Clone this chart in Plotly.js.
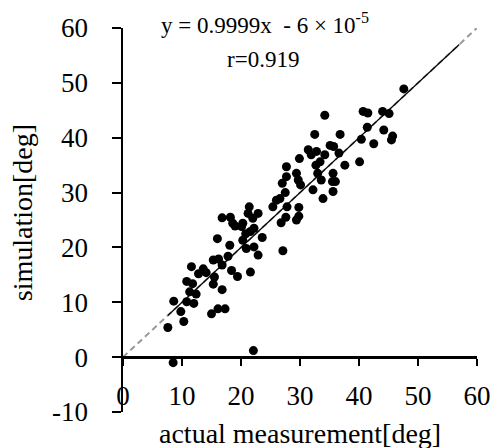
<!DOCTYPE html>
<html>
<head>
<meta charset="utf-8">
<script src="https://cdn.plot.ly/plotly-3.0.1.min.js"></script>
<style>html,body{margin:0;padding:0;background:#fff;}#chart{width:491px;height:448px;}</style>
</head>
<body>
<div id="chart"></div>
<script>
const actual = [7.6, 8.5, 8.6, 9.8, 10.3, 10.8, 10.8, 11.6, 11.8, 11.3, 12.0, 12.4, 12.8, 13.6, 14.1,
  15.0, 15.5, 15.3, 15.3, 16.1, 16.0, 16.2, 16.8, 16.8, 16.8, 17.3, 17.8, 18.2, 18.1, 18.4,
  18.6, 19.4, 19.0, 20.1, 20.3, 20.3, 20.8, 20.9, 21.2, 21.4, 21.6, 21.6, 22.0, 22.1, 22.2,
  22.2, 22.9, 22.9, 23.6, 25.4, 26.0, 26.6, 26.8, 27.0, 27.1, 27.5, 27.6, 27.7, 27.7, 27.8,
  29.4, 29.4, 29.7, 29.8, 29.8, 30.1, 29.9, 32.2, 31.4, 31.9, 32.5, 32.8, 32.7, 33.0, 33.4,
  33.6, 34.2, 33.9, 34.2, 35.1, 35.5, 35.6, 35.6, 36.0, 36.6, 36.8, 37.6, 40.1, 40.4, 40.7,
  41.4, 41.5, 42.5, 44.0, 44.2, 45.1, 45.5, 45.7, 47.6, 35.7];
const simulation = [5.4, -1.0, 10.2, 8.3, 6.5, 10.1, 13.8, 16.5, 13.4, 11.9, 9.8, 11.5, 15.2, 16.1, 15.4,
  7.9, 14.6, 13.3, 17.7, 8.8, 21.6, 17.9, 12.3, 16.8, 25.4, 8.8, 18.4, 25.5, 20.4, 15.8,
  24.4, 14.7, 23.9, 23.8, 24.4, 21.3, 22.5, 19.8, 26.2, 27.4, 22.9, 15.5, 25.3, 1.2, 20.1,
  23.5, 26.2, 18.6, 21.8, 27.4, 28.6, 28.9, 24.5, 31.7, 19.4, 30.0, 25.5, 32.9, 34.7, 27.4,
  33.5, 25.0, 32.3, 27.3, 25.7, 31.4, 36.2, 30.5, 37.8, 36.9, 40.6, 37.5, 35.0, 33.5, 35.6,
  32.3, 36.9, 28.9, 44.1, 38.6, 32.0, 33.5, 30.2, 32.0, 37.2, 40.6, 35.0, 35.6, 39.7, 44.8,
  41.9, 44.5, 38.9, 44.8, 41.4, 44.4, 39.6, 40.3, 48.9, 38.4];
const identityX = [0, 60];
const identityY = [0, 60];
const fitX = [7.6, 57];
const fitY = [7.6, 57];
const xTicks = [0, 10, 20, 30, 40, 50, 60];
const yTicks = [-10, 0, 10, 20, 30, 40, 50, 60];

const serif = "Liberation Serif, Times New Roman, serif";

const traces = [
  {x: identityX, y: identityY, mode: 'lines', line: {color: '#999999', width: 2, dash: '6px,4px'}, hoverinfo: 'skip'},
  {x: fitX, y: fitY, mode: 'lines', line: {color: '#000000', width: 1.2}, hoverinfo: 'skip'},
  {x: actual, y: simulation, mode: 'markers', marker: {color: '#000000', size: 9}}
];

const layout = {
  width: 491, height: 448,
  margin: {l: 123, r: 14, t: 28, b: 36},
  paper_bgcolor: '#ffffff', plot_bgcolor: '#ffffff',
  showlegend: false,
  font: {family: serif, color: '#000000', size: 20},
  xaxis: {
    range: [0, 60], tickvals: xTicks, ticktext: xTicks.map(String),
    showgrid: false, zeroline: false, showline: true, linecolor: '#000', linewidth: 2.5,
    ticks: 'outside', ticklen: 7, tickwidth: 2, tickcolor: '#000',
    anchor: 'free', position: 1/7, ticklabelstandoff: 7,
    tickfont: {family: serif, size: 27}
  },
  yaxis: {
    range: [-10, 60], tickvals: yTicks, ticktext: yTicks.map(String),
    showgrid: false, zeroline: false, showline: true, linecolor: '#000', linewidth: 2.5,
    ticks: 'outside', ticklen: 9, tickwidth: 2, tickcolor: '#000', ticklabelstandoff: 18,
    tickfont: {family: serif, size: 27}
  },
  annotations: [
    {xref: 'paper', yref: 'paper', x: 0.40, y: 1.012, xanchor: 'center', yanchor: 'middle', showarrow: false,
     text: 'y = 0.9999x  - 6 × 10<sup>-5</sup>', font: {family: serif, size: 23}},
    {xref: 'paper', yref: 'paper', x: 0.395, y: 0.919, xanchor: 'center', yanchor: 'middle', showarrow: false,
     text: 'r=0.919', font: {family: serif, size: 23}},
    {xref: 'paper', yref: 'paper', x: 0.5, y: -0.056, xanchor: 'center', yanchor: 'middle', showarrow: false,
     text: 'actual measurement[deg]', font: {family: serif, size: 28}},
    {xref: 'paper', yref: 'paper', x: -0.285, y: 0.518, xanchor: 'center', yanchor: 'middle', showarrow: false,
     textangle: -90, text: 'simulation[deg]', font: {family: serif, size: 28}}
  ]
};

Plotly.newPlot('chart', traces, layout, {displayModeBar: false, staticPlot: true});
</script>
</body>
</html>
